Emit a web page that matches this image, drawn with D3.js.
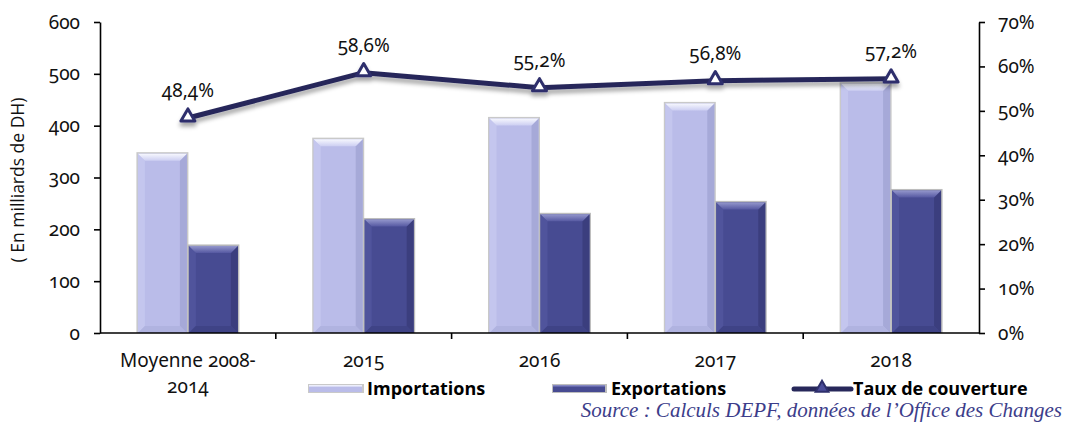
<!DOCTYPE html>
<html>
<head>
<meta charset="utf-8">
<script src="https://cdn.jsdelivr.net/npm/d3@7"></script>
<style>
  html, body { margin: 0; padding: 0; background: #fff; }
  svg { display: block; }
  .num { font-family: "Noto Sans", "Open Sans", sans-serif; font-feature-settings: "onum" 1; font-variant-numeric: oldstyle-nums; }
</style>
</head>
<body>
<svg id="chart" width="1067" height="423"></svg>
<script>
// Data: foreign trade (billions of DH) and coverage rate
const categories = ["Moyenne 2008-2014", "2015", "2016", "2017", "2018"];
const categoryLines = [["Moyenne 2008-", "2014"], ["2015"], ["2016"], ["2017"], ["2018"]];
const importations = [346, 374, 414, 443, 481];
const exportations = [168, 219, 229, 252, 275];
const tauxCouverture = [48.4, 58.6, 55.2, 56.8, 57.2];
const tauxLabels = ["48,4%", "58,6%", "55,2%", "56,8%", "57,2%"];
const leftTicks = [0, 100, 200, 300, 400, 500, 600];
const rightTicks = [0, 10, 20, 30, 40, 50, 60, 70];

const svg = d3.select("#chart");
const plot = { left: 100, right: 979, top: 22, bottom: 333 };

const x = d3.scaleBand().domain(categories).range([plot.left, plot.right]).padding(0);
const yL = d3.scaleLinear().domain([0, 600]).range([plot.bottom, plot.top]);
const yR = d3.scaleLinear().domain([0, 70]).range([plot.bottom, plot.top]);
const groupFrac = 0.58;
const x1 = d3.scaleBand().domain(["imp", "exp"])
  .range([-x.bandwidth() * groupFrac / 2, x.bandwidth() * groupFrac / 2]).padding(0);

const defs = svg.append("defs");
const shadow = defs.append("filter").attr("id", "lineShadow")
  .attr("x", "-10%").attr("y", "-50%").attr("width", "120%").attr("height", "200%");
shadow.append("feDropShadow").attr("dx", 0).attr("dy", 4).attr("stdDeviation", 2.2)
  .attr("flood-color", "#000").attr("flood-opacity", 0.35);

function grad(id, stops, vertical) {
  const g = defs.append("linearGradient").attr("id", id)
    .attr("x1", 0).attr("y1", 0).attr("x2", vertical ? 0 : 1).attr("y2", vertical ? 1 : 0);
  stops.forEach(s => g.append("stop").attr("offset", s[0]).attr("stop-color", s[1]));
}
grad("impTop", [[0, "#f7f8fe"], [1, "#cdcff2"]], true);
grad("expTop", [[0, "#9497cc"], [1, "#5659a2"]], true);

const styles = {
  imp: { main: "#babce9", top: "url(#impTop)", left: "#c4c6ee", right: "#a6a9d8", bottom: "#b0b3e0", edge: "#c9c9c9" },
  exp: { main: "#474b92", top: "url(#expTop)", left: "#50549c", right: "#3b3e7e", bottom: "#3f4386", edge: "#bdbdbd" }
};

// Bevelled bars
function bevelBar(g, bx, by, bw, bh, st) {
  const b = Math.min(7, bh / 2);
  g.append("rect").attr("x", bx - 1.5).attr("y", by - 1.5).attr("width", bw + 3).attr("height", bh + 1.5)
    .attr("fill", st.edge);
  g.append("rect").attr("x", bx).attr("y", by).attr("width", bw).attr("height", bh).attr("fill", st.main);
  const poly = (pts, fill) => g.append("polygon").attr("points", pts.map(p => p.join(",")).join(" ")).attr("fill", fill);
  poly([[bx, by], [bx + b, by + b], [bx + b, by + bh - b], [bx, by + bh]], st.left);
  poly([[bx + bw, by], [bx + bw, by + bh], [bx + bw - b, by + bh - b], [bx + bw - b, by + b]], st.right);
  poly([[bx, by + bh], [bx + b, by + bh - b], [bx + bw - b, by + bh - b], [bx + bw, by + bh]], st.bottom);
  poly([[bx, by], [bx + bw, by], [bx + bw - b, by + b], [bx + b, by + b]], st.top);
}

const bars = svg.append("g");
categories.forEach((c, i) => {
  const cx = x(c) + x.bandwidth() / 2;
  [["imp", importations[i]], ["exp", exportations[i]]].forEach(([k, v]) => {
    const bx = cx + x1(k);
    bevelBar(bars, bx + 1, yL(v), x1.bandwidth() - 2, yL(0) - yL(v), styles[k]);
  });
});

// Axes
const axisStyle = g => {
  g.selectAll(".domain").attr("stroke", "#000").attr("stroke-width", 1.6);
  g.selectAll(".tick line").attr("stroke", "#000").attr("stroke-width", 1.6);
  g.selectAll(".tick text").attr("class", "num").attr("font-size", 19).attr("fill", "#111");
};
svg.append("g").attr("transform", `translate(${plot.left},0)`)
  .call(d3.axisLeft(yL).tickValues(leftTicks).tickSize(6).tickSizeOuter(0).tickPadding(14))
  .call(axisStyle);
svg.append("g").attr("transform", `translate(${plot.right},0)`)
  .call(d3.axisRight(yR).tickValues(rightTicks).tickSize(6).tickSizeOuter(0).tickPadding(13)
    .tickFormat(d => d + "%"))
  .call(axisStyle);

const xAxis = svg.append("g").attr("transform", `translate(0,${plot.bottom})`);
xAxis.append("line").attr("x1", plot.left).attr("x2", plot.right).attr("stroke", "#000").attr("stroke-width", 1.6);
categories.slice(1).forEach(c => {
  xAxis.append("line").attr("x1", x(c)).attr("x2", x(c)).attr("y1", 0).attr("y2", 6)
    .attr("stroke", "#000").attr("stroke-width", 1.6);
});
categories.forEach((c, i) => {
  const t = xAxis.append("text").attr("class", "num").attr("text-anchor", "middle")
    .attr("font-size", 19).attr("fill", "#111");
  categoryLines[i].forEach((ln, j) => {
    t.append("tspan").attr("x", x(c) + x.bandwidth() / 2).attr("y", 34 + j * 26).text(ln);
  });
});

// Y axis title
svg.append("text").attr("transform", "translate(24,180) rotate(-90)")
  .attr("text-anchor", "middle").attr("font-family", "'Open Sans', sans-serif")
  .attr("font-size", 17.5).attr("fill", "#111").text("( En milliards de DH)");

// Coverage rate line
const pts = categories.map((c, i) => [x(c) + x.bandwidth() / 2, yR(tauxCouverture[i])]);
const lineG = svg.append("g").attr("filter", "url(#lineShadow)");
lineG.append("path").attr("d", d3.line()(pts)).attr("fill", "none")
  .attr("stroke", "#27285a").attr("stroke-width", 5).attr("stroke-linejoin", "round");
const tri = d3.symbol().type(d3.symbolTriangle).size(85);
pts.forEach(p => {
  lineG.append("path").attr("d", tri()).attr("transform", `translate(${p[0]},${p[1] - 1})`)
    .attr("fill", "#fff").attr("stroke", "#2e2f6c").attr("stroke-width", 3).attr("stroke-linejoin", "round");
});
pts.forEach((p, i) => {
  svg.append("text").attr("class", "num").attr("x", p[0]).attr("y", p[1] - 21)
    .attr("text-anchor", "middle").attr("font-size", 19).attr("fill", "#111").text(tauxLabels[i]);
});

// Legend
const leg = svg.append("g");
const legY = 389;
function legendSwatch(x0, w, st) {
  leg.append("rect").attr("x", x0).attr("y", legY - 5).attr("width", w).attr("height", 9).attr("fill", st.edge);
  leg.append("rect").attr("x", x0 + 1).attr("y", legY - 4).attr("width", w - 3).attr("height", 7).attr("fill", st.main);
  leg.append("rect").attr("x", x0 + 1).attr("y", legY - 4).attr("width", w - 3).attr("height", 2).attr("fill", st.top);
}
legendSwatch(308, 56, styles.imp);
legendSwatch(552, 55, styles.exp);
leg.append("line").attr("x1", 794).attr("x2", 851).attr("y1", legY).attr("y2", legY)
  .attr("stroke", "#27285a").attr("stroke-width", 5).attr("stroke-linecap", "round");
leg.append("path").attr("d", d3.symbol().type(d3.symbolTriangle).size(70)())
  .attr("transform", `translate(822,${legY - 1})`).attr("fill", "#4b4d9a").attr("stroke", "#2e2f6c").attr("stroke-width", 2);
[["Importations", 367], ["Exportations", 611], ["Taux de couverture", 853]].forEach(([t, lx]) => {
  leg.append("text").attr("x", lx).attr("y", legY + 6).attr("font-family", "'Open Sans', sans-serif")
    .attr("font-weight", "bold").attr("font-size", 18).attr("fill", "#000").text(t);
});

// Source note
svg.append("text").attr("x", 1062).attr("y", 417).attr("text-anchor", "end")
  .attr("font-family", "'Liberation Serif', 'Times New Roman', serif").attr("font-style", "italic")
  .attr("font-size", 21).attr("fill", "#3c3d8a")
  .text("Source : Calculs DEPF, données de l’Office des Changes");
</script>
</body>
</html>
